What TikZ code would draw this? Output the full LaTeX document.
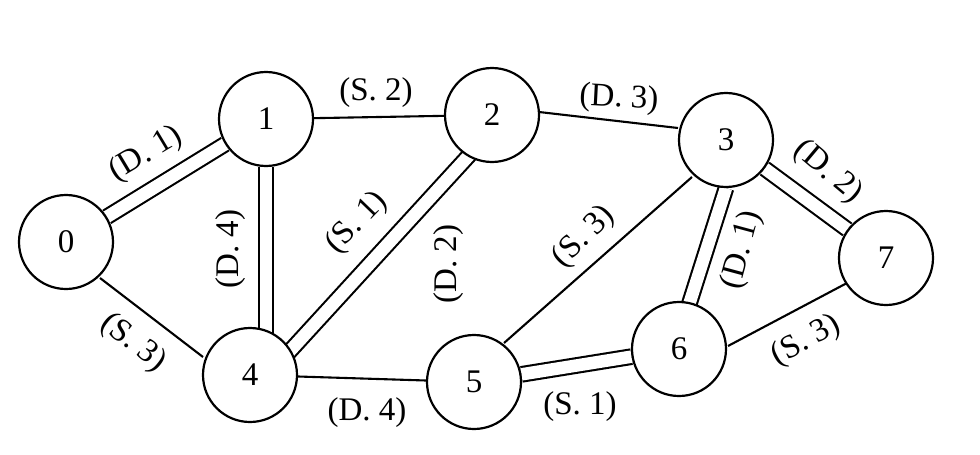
\documentclass[tikz,border=0pt]{standalone}
\usepackage{fontspec}
\setmainfont{Liberation Serif}
\usetikzlibrary{calc}
\pgfdeclarelayer{bg}
\pgfsetlayers{bg,main}
\begin{document}
\begin{tikzpicture}[x=1pt,y=-1pt,
  vert/.style={circle,draw,fill=white,line width=2.2pt,minimum size=94pt,inner sep=0pt,font=\fontsize{33}{39}\selectfont},
  single/.style={line width=2.1pt},
  dbl/.style={double,double distance=12.5pt,line width=2.1pt},
  lab/.style={font=\fontsize{33}{39}\selectfont,inner sep=0pt}]
\useasboundingbox (0,0) rectangle (980,455);
% vertices
\node[vert] (0) at (66,242) {0};
\node[vert] (1) at (266,119) {1};
\node[vert] (2) at (492,115) {2};
\node[vert] (3) at (726,140) {3};
\node[vert] (4) at (250,375) {4};
\node[vert] (5) at (474,382) {5};
\node[vert] (6) at (679,349) {6};
\node[vert] (7) at (886,258) {7};
% edges
\begin{pgfonlayer}{bg}
\draw[dbl] (0) -- (1);
\draw[dbl] (1) -- (1 |- 4);
\draw[dbl] ($(4)+(18,0)$) -- ($(2)+(14,0)$);
\draw[dbl] (3.south) -- ($(6)+(-4,0)$);
\draw[dbl] (3) -- (7);
\draw[dbl] (5) -- (6);
\draw[single] ($(0)+(34,36)$) -- ($(4)+(-47,-18)$);
\draw[single] (1) -- (2);
\draw[single] ($(2)+(47,-3)$) -- ($(3)+(-48,-12)$);
\draw[single] (4) -- (5);
\draw[single] ($(5)+(30,-39)$) -- ($(3)+(-34,37)$);
\draw[single] ($(6)+(49,-3)$) -- ($(7)+(-39,25)$);
\end{pgfonlayer}
% labels
\node[lab,rotate=31] (l01) at (146,154) {(D. 1)};
\node[lab,rotate=90] (l14) at (231,249) {(D. 4)};
\node[lab,rotate=-38] (l04) at (133,343) {(S. 3)};
\node[lab,rotate=46] (l24) at (357,223) {(S. 1)};
\node[lab,rotate=90] (ld2) at (449,264) {(D. 2)};
\node[lab] (l12) at (376,93) {(S. 2)};
\node[lab,rotate=-3] (l23) at (619,99) {(D. 3)};
\node[lab,rotate=45] (l35) at (584,237) {(S. 3)};
\node[lab] (l45) at (367,413) {(D. 4)};
\node[lab] (l56) at (580,407) {(S. 1)};
\node[lab,rotate=75] (l36) at (742,250) {(D. 1)};
\node[lab,rotate=-40] (l37) at (828,172) {(D. 2)};
\node[lab,rotate=28] (l67) at (806,341) {(S. 3)};
\end{tikzpicture}
\end{document}
